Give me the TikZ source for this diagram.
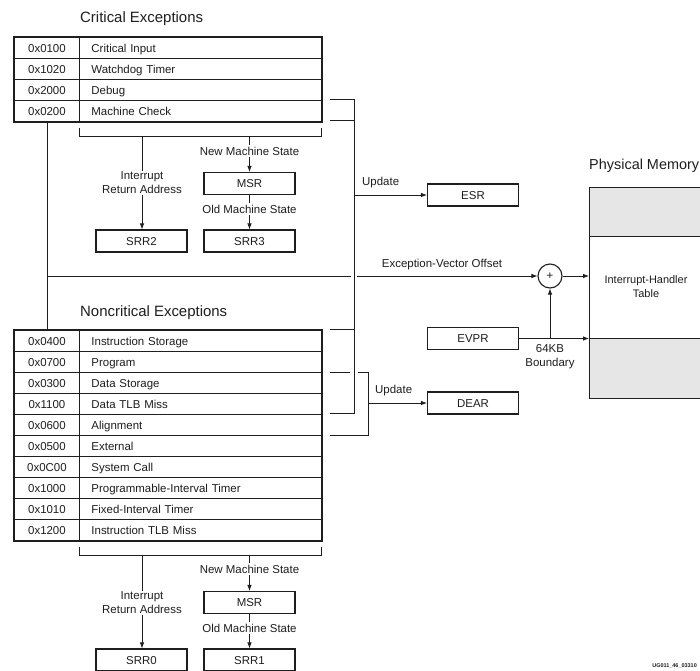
\documentclass[tikz,border=0pt]{standalone}
\usepackage{fontspec}
\setmainfont{Liberation Sans}
\usetikzlibrary{arrows.meta}

\definecolor{ink}{HTML}{1E1E1E}
\definecolor{memgray}{HTML}{E6E6E6}

\begin{document}
\begin{tikzpicture}[x=1bp, y=-1bp,
  every node/.style={font=\fontsize{11.5}{14}\selectfont, text=ink},
  cell/.style={draw=ink, line width=0.9bp, minimum height=21bp, inner ysep=0pt,
    text height=9.6bp, text depth=1.4bp, anchor=north west},
  addr/.style={cell, minimum width=65bp, inner xsep=0pt, align=center},
  excname/.style={cell, text width=218bp, inner xsep=12bp, align=left},
  reg/.style={draw=ink, line width=1.1bp, minimum width=91bp, minimum height=22bp, inner sep=0pt,
    text height=9.6bp, text depth=1.4bp},
  wire/.style={draw=ink, line width=0.8bp},
  arr/.style={wire, -{Latex[length=6bp,width=4.5bp]}},
  lbl/.style={fill=white, inner sep=1.5bp, align=center},
  heading/.style={font=\fontsize{15}{17}\selectfont, anchor=west, inner sep=0pt},
  frame/.style={draw=ink, line width=1.6bp}
]
\path[use as bounding box, clip] (0,0) rectangle (700,671);
\fill[white] (0,0) rectangle (700,671);

% ---------- critical exception table ----------
\node[heading] (crittitle) at (80,19) {Critical Exceptions};
\foreach \a/\n [count=\i from 0] in {0x0100/Critical Input, 0x1020/Watchdog Timer,
    0x2000/Debug, 0x0200/Machine Check} {
  \node[addr] (ca\i) at (14,{37+21*\i}) {\a};
  \node[excname] (cn\i) at (79,{37+21*\i}) {\n};
}
\draw[frame] (ca0.north west) rectangle (cn3.south east);

% registers saved on a critical exception
\node[reg] (msrc) at (249.5,183.5) {MSR};
\node[reg] (srr2) at (141.5,241) {SRR2};
\node[reg] (srr3) at (249.5,241) {SRR3};
\draw[wire] (79,128) -- (79,136) -- (321,136) -- (321,128);
\coordinate (cbl) at (142,136);
\coordinate (cbr) at (249.5,136);
\draw[arr] (cbl) -- (srr2.north -| cbl);
\draw[arr] (cbr) -- (msrc.north);
\draw[arr] (msrc.south) -- (srr3.north);
\node[lbl] at (142,183) {Interrupt\\Return Address};
\node[lbl] at (249.5,151) {New Machine State};
\node[lbl] at (249.5,209) {Old Machine State};

% ---------- noncritical exception table ----------
\node[heading] (ncrittitle) at (80,313) {Noncritical Exceptions};
\foreach \a/\n [count=\i from 0] in {0x0400/Instruction Storage, 0x0700/Program,
    0x0300/Data Storage, 0x1100/Data TLB Miss, 0x0600/Alignment, 0x0500/External,
    0x0C00/System Call, 0x1000/Programmable-Interval Timer,
    0x1010/Fixed-Interval Timer, 0x1200/Instruction TLB Miss} {
  \node[addr] (na\i) at (14,{330+21*\i}) {\a};
  \node[excname] (nn\i) at (79,{330+21*\i}) {\n};
}
\draw[frame] (na0.north west) rectangle (nn9.south east);

% registers saved on a noncritical exception
\node[reg] (msrn) at (249.5,602.5) {MSR};
\node[reg] (srr0) at (141.5,660) {SRR0};
\node[reg] (srr1) at (249.5,660) {SRR1};
\draw[wire] (79,547) -- (79,555) -- (321,555) -- (321,547);
\coordinate (nbl) at (142,555);
\coordinate (nbr) at (249.5,555);
\draw[arr] (nbl) -- (srr0.north -| nbl);
\draw[arr] (nbr) -- (msrn.north);
\draw[arr] (msrn.south) -- (srr1.north);
\node[lbl] at (142,603) {Interrupt\\Return Address};
\node[lbl] at (249.5,569) {New Machine State};
\node[lbl] at (249.5,628) {Old Machine State};

% ---------- syndrome registers ----------
\node[reg] (esr) at (473,195) {ESR};
\node[reg] (dear) at (473,403) {DEAR};
\node[reg] (evpr) at (473,338.5) {EVPR};

% ESR update bracket
\draw[wire] (330,99) -- (354,99) -- (354,413) -- (330,413);
\draw[wire] (330,120) -- (354,120);
\draw[wire] (330,329) -- (354,329);
\coordinate (esrtap) at (354,195);
\draw[arr] (esrtap) -- (esrtap -| esr.west);
\node[anchor=west, inner sep=0pt] at (362,183) {Update};

% DEAR update bracket
\draw[wire] (330,372) -- (350,372);
\draw[wire] (358,372) -- (368,372) -- (368,435) -- (330,435);
\coordinate (deartap) at (368,403);
\draw[arr] (deartap) -- (deartap -| dear.west);
\node[anchor=west, inner sep=0pt] at (375,391) {Update};

% ---------- physical memory ----------
\node[heading, font=\fontsize{14.5}{17}\selectfont] (memtitle) at (589,166) {Physical Memory};
\node[draw=ink, line width=1.1bp, fill=memgray, anchor=north west, minimum width=130bp,
      minimum height=49bp, inner sep=0pt] (memtop) at (589,187) {};
\node[draw=ink, line width=1.1bp, fill=white, anchor=north west, minimum width=130bp,
      minimum height=102bp, inner sep=0pt] (memmid) at (589,236) {};
\node[draw=ink, line width=1.1bp, fill=memgray, anchor=north west, minimum width=130bp,
      minimum height=60bp, inner sep=0pt] (membot) at (589,338) {};
\node[align=center, font=\fontsize{11}{14}\selectfont] (iht) at (646,287) {Interrupt-Handler\\Table};

% ---------- vector address formation ----------
\node[draw=ink, line width=1.1bp, circle, minimum size=24bp, inner sep=0pt] (plus) at (550,276) {+};
\draw[wire] (ca3.south) -- (na0.north);
\coordinate (evo) at (ca3.south |- plus);
\draw[wire] (evo) -- (351,276);
\draw[arr] (357,276) -- (plus.west);
\node[anchor=south, inner sep=0pt] at (442,270) {Exception-Vector Offset};
\draw[arr] (plus.east) -- (plus.east -| memmid.west);
\draw[arr] (evpr.east) -- (evpr.east -| membot.west);
\coordinate (evprtap) at (evpr.east -| plus.south);
\draw[arr] (evprtap) -- (plus.south);
\node[align=center, inner sep=0pt] at (550,357) {64KB\\Boundary};

% figure number
\node[anchor=east, inner sep=0pt, font=\fontsize{5.5}{6}\bfseries] at (697,666) {UG011\_46\_03310};
\end{tikzpicture}
\end{document}
